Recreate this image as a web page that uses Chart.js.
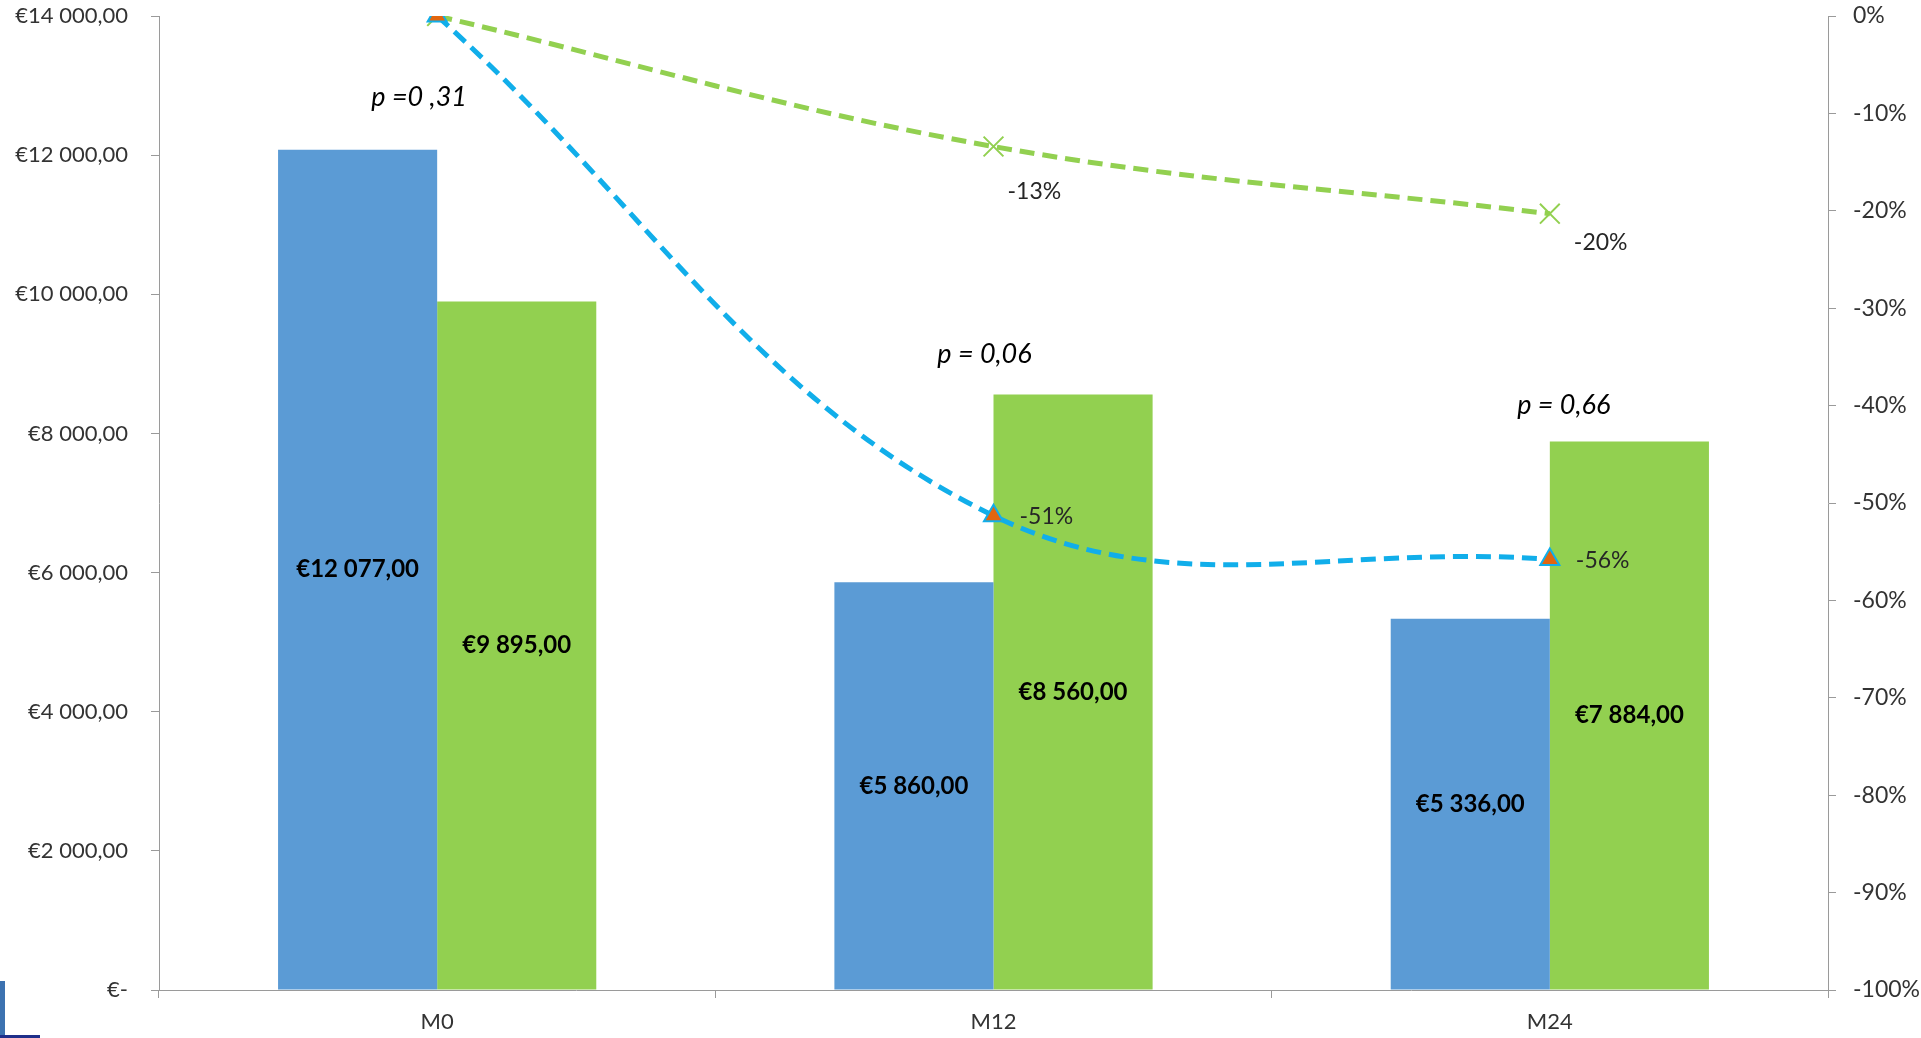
<!DOCTYPE html>
<html>
<head>
<meta charset="utf-8">
<title>Coûts M0 / M12 / M24</title>
<script src="https://cdn.jsdelivr.net/npm/chart.js@4.4.0/dist/chart.umd.min.js"></script>
<style>
  html, body { margin: 0; padding: 0; background: #fff; overflow: hidden; }
  #wrap { position: relative; width: 1921px; height: 1038px; }
  .corner-v { position: absolute; left: 0; top: 981px; width: 5px; height: 57px; background: #3c72b0; }
  .corner-h { position: absolute; left: 0; top: 1035px; width: 40px; height: 3px; background: #1f2f8a; }
</style>
</head>
<body>
<div id="wrap">
  <canvas id="chart" width="1921" height="1038"></canvas>
  <div class="corner-v"></div>
  <div class="corner-h"></div>
</div>
<script>
const months = ['M0', 'M12', 'M24'];
const costBlue = [12077, 5860, 5336];
const costGreen = [9895, 8560, 7884];
const changeBlue = [0, -0.513, -0.558];
const changeGreen = [0, -0.134, -0.203];
const pValues = ['p =0 ,31', 'p = 0,06', 'p = 0,66'];
const euroTicks = ['€-', '€2 000,00', '€4 000,00', '€6 000,00', '€8 000,00', '€10 000,00', '€12 000,00', '€14 000,00'];
const pctTicks = ['-100%', '-90%', '-80%', '-70%', '-60%', '-50%', '-40%', '-30%', '-20%', '-10%', '0%'];

const FONT = 'Lato, "Open Sans", sans-serif';
const AXIS = '#9a9a9a';
const TEXT = '#333333';

function fmtEuro(v) {
    return '€' + String(v).replace(/\B(?=(\d{3})+(?!\d))/g, ' ') + ',00';
}

function fmtPct(v) {
    return (v * 100).toFixed(0) + '%';
}

// keep the plot area fixed: no extra room for half tick labels
function fixPad(s) {
    s.paddingTop = 0;
    s.paddingBottom = 0;
}

// draws bar values, line percentages and the p-value notes
const labelsPlugin = {
    id: 'labelsPlugin',
    afterDatasetsDraw(chart) {
        const ctx = chart.ctx;
        ctx.save();
        chart.data.datasets.forEach((ds, i) => {
            const meta = chart.getDatasetMeta(i);
            meta.data.forEach((el, j) => {
                if (ds.type === 'bar') {
                    ctx.font = 'bold 24px ' + FONT;
                    ctx.fillStyle = '#000';
                    ctx.textAlign = 'center';
                    ctx.textBaseline = 'middle';
                    ctx.fillText(fmtEuro(ds.data[j]), el.x, (el.y + el.base) / 2);
                } else if (j > 0) {
                    const off = ds.labelOffsets[j];
                    ctx.font = '23px ' + FONT;
                    ctx.fillStyle = '#262626';
                    ctx.textAlign = 'left';
                    ctx.textBaseline = 'middle';
                    ctx.fillText(fmtPct(ds.data[j]), el.x + off[0], el.y + off[1]);
                }
            });
        });

        const notes = chart.options.plugins.labelsPlugin.notes;
        const x = chart.scales.x;
        const y = chart.scales.y;
        ctx.font = 'italic 27px ' + FONT;
        ctx.fillStyle = '#000';
        ctx.textAlign = 'center';
        ctx.textBaseline = 'middle';
        pValues.forEach((txt, j) => {
            const top = y.getPixelForValue(Math.max(costBlue[j], costGreen[j]));
            ctx.fillText(txt, x.getPixelForValue(j) + notes[j][0], top + notes[j][1]);
        });
        ctx.restore();
    }
};

new Chart(document.getElementById('chart'), {
    data: {
        labels: months,
        datasets: [
            {
                type: 'line',
                data: changeBlue,
                yAxisID: 'y1',
                order: 0,
                borderColor: '#11aeea',
                borderWidth: 5,
                borderDash: [15, 8],
                tension: 0.38,
                pointStyle: 'triangle',
                pointRadius: 11,
                pointBorderWidth: 2,
                pointBackgroundColor: '#e2660f',
                pointBorderColor: '#11aeea',
                labelOffsets: [[0, 0], [26, 1], [26, 1]]
            },
            {
                type: 'line',
                data: changeGreen,
                yAxisID: 'y1',
                order: 1,
                borderColor: '#92d050',
                borderWidth: 5,
                borderDash: [15, 8],
                tension: 0.38,
                pointStyle: 'crossRot',
                pointRadius: 14,
                pointBorderWidth: 2,
                pointBorderColor: '#92d050',
                labelOffsets: [[0, 0], [14, 45], [24, 29]]
            },
            {
                type: 'bar',
                data: costBlue,
                yAxisID: 'y',
                order: 2,
                backgroundColor: '#5b9bd5',
                categoryPercentage: 0.572,
                barPercentage: 1
            },
            {
                type: 'bar',
                data: costGreen,
                yAxisID: 'y',
                order: 3,
                backgroundColor: '#92d050',
                categoryPercentage: 0.572,
                barPercentage: 1
            }
        ]
    },
    options: {
        responsive: false,
        animation: false,
        layout: { padding: { top: 14, right: 0, bottom: 0, left: 0 } },
        plugins: {
            legend: { display: false },
            tooltip: { enabled: false },
            labelsPlugin: { notes: [[-18, -52], [-9, -40], [14, -36]] }
        },
        scales: {
            x: {
                offset: true,
                grid: { offset: true, drawOnChartArea: false, drawTicks: true, tickLength: 8, color: AXIS },
                border: { display: true, color: AXIS, width: 1 },
                ticks: { color: TEXT, font: { family: FONT, size: 22 }, padding: 11 },
                afterFit: (s) => { s.height = 48; }
            },
            y: {
                position: 'left',
                min: 0,
                max: 14000,
                grid: { drawOnChartArea: false, drawTicks: true, tickLength: 8, color: AXIS },
                border: { display: true, color: AXIS, width: 1 },
                ticks: {
                    stepSize: 2000,
                    color: TEXT,
                    font: { family: FONT, size: 22 },
                    padding: 23,
                    callback: (v) => euroTicks[Math.round(v / 2000)]
                },
                afterFit: (s) => { s.width = 159; fixPad(s); }
            },
            y1: {
                position: 'right',
                min: -1,
                max: 0,
                grid: { drawOnChartArea: false, drawTicks: true, tickLength: 8, color: AXIS },
                border: { display: true, color: AXIS, width: 1 },
                ticks: {
                    stepSize: 0.1,
                    color: TEXT,
                    font: { family: FONT, size: 23 },
                    padding: 17,
                    callback: (v) => pctTicks[Math.round((v + 1) * 10)]
                },
                afterFit: (s) => { s.width = 93; fixPad(s); }
            }
        }
    },
    plugins: [labelsPlugin]
});
</script>
</body>
</html>
